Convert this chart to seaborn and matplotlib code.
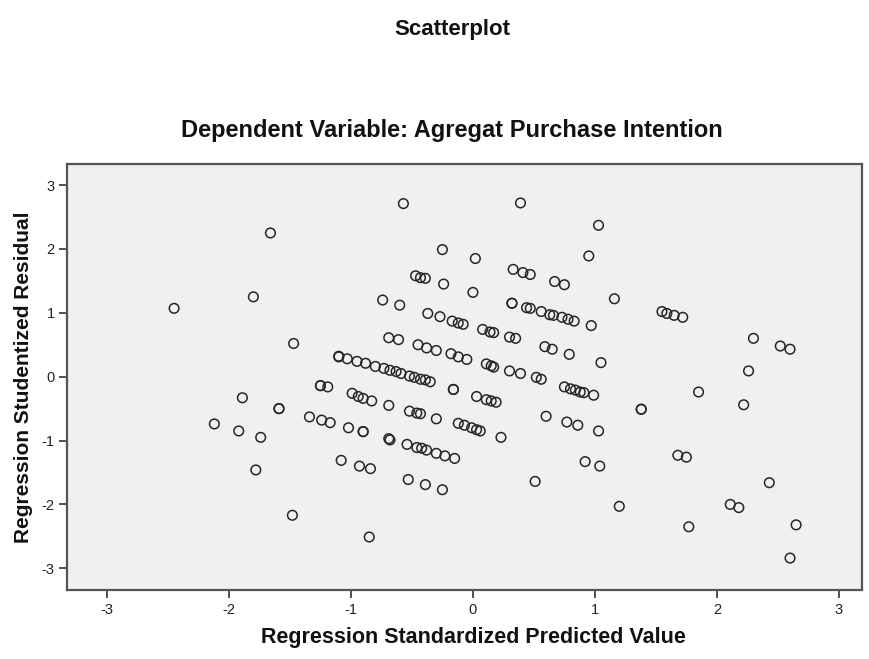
import matplotlib
matplotlib.use("Agg")
import matplotlib.pyplot as plt
import seaborn as sns
import pandas as pd

# Regression standardized predicted value (x) and studentized residual (y)
predicted = [
    -2.45, -1.66, -1.80, -1.47,
    -1.89, -1.59, -1.59, -2.12, -1.92, -1.74, -1.78, -1.48, -0.85,
    -0.57, 0.39, 1.03, -0.25, 0.02, 0.95,
    1.55, 1.59, 1.65, 1.72, 1.16, 2.30, 2.52, 2.60, 2.26, 1.85, 2.22, 1.38, 1.38,
    1.68, 1.75, 2.43, 1.20, 2.11, 2.18, 1.77, 2.65, 2.60,
    1.05, 0.97, 0.99, 1.03, 1.04, 0.92,
    -0.47, -0.43, -0.39, -0.24, 0.00, -0.74, -0.60,
    0.33, 0.41, 0.47, 0.67, 0.75,
    0.32, 0.32, 0.44, 0.47, 0.56, 0.63, 0.66, 0.73, 0.78, 0.83,
    -0.37, -0.27, -0.17, -0.12, -0.08,
    0.08, 0.14, 0.17, 0.30, 0.35, -0.69, -0.61,
    -0.45, -0.38, -0.30, -0.18, -0.12, -0.05,
    0.11, 0.15, 0.17, 0.30, 0.39, 0.52, 0.56, 0.59, 0.65, 0.79,
    -1.10, -1.10, -1.03, -0.95, -0.88, -0.80, -0.73, -0.68, -0.63, -0.59, -0.52,
    -0.48, -0.43, -0.39, -0.35,
    -1.25, -1.25, -1.19, -0.16, -0.16,
    -0.99, -0.94, -0.90, -0.83,
    0.03, 0.11, 0.15, 0.19,
    0.75, 0.80, 0.84, 0.88, 0.91,
    -0.69, -0.52, -0.46, -0.43, -0.30,
    -0.12, -0.07, -0.01, 0.03, 0.06, 0.23,
    0.60, 0.77, 0.86,
    -1.34, -1.24, -1.17, -1.02, -0.90, -0.90,
    -0.69, -0.68,
    -0.54, -0.46, -0.42, -0.38, -0.30, -0.23, -0.15,
    -1.08, -0.93, -0.84,
    -0.53, -0.39, -0.25, 0.51,
]
residual = [
    1.07, 2.25, 1.25, 0.52,
    -0.33, -0.50, -0.50, -0.74, -0.85, -0.95, -1.46, -2.17, -2.51,
    2.71, 2.72, 2.37, 1.99, 1.85, 1.89,
    1.02, 0.99, 0.96, 0.93, 1.22, 0.60, 0.48, 0.43, 0.09, -0.24, -0.44, -0.51, -0.51,
    -1.23, -1.26, -1.66, -2.03, -2.00, -2.05, -2.35, -2.32, -2.84,
    0.22, 0.80, -0.29, -0.85, -1.40, -1.33,
    1.58, 1.55, 1.54, 1.45, 1.32, 1.20, 1.12,
    1.68, 1.63, 1.60, 1.49, 1.44,
    1.15, 1.15, 1.08, 1.07, 1.02, 0.97, 0.96, 0.93, 0.90, 0.87,
    0.99, 0.94, 0.87, 0.84, 0.82,
    0.74, 0.70, 0.69, 0.62, 0.60, 0.61, 0.58,
    0.50, 0.45, 0.41, 0.36, 0.31, 0.27,
    0.20, 0.17, 0.15, 0.09, 0.05, -0.01, -0.04, 0.47, 0.43, 0.35,
    0.32, 0.31, 0.28, 0.24, 0.21, 0.16, 0.13, 0.10, 0.08, 0.05, 0.01,
    -0.01, -0.04, -0.05, -0.08,
    -0.14, -0.14, -0.16, -0.20, -0.20,
    -0.26, -0.31, -0.34, -0.38,
    -0.31, -0.36, -0.38, -0.40,
    -0.16, -0.19, -0.21, -0.24, -0.25,
    -0.45, -0.54, -0.57, -0.58, -0.66,
    -0.73, -0.76, -0.80, -0.83, -0.85, -0.95,
    -0.62, -0.71, -0.76,
    -0.63, -0.68, -0.72, -0.80, -0.86, -0.86,
    -0.97, -0.99,
    -1.06, -1.11, -1.12, -1.15, -1.20, -1.24, -1.28,
    -1.31, -1.40, -1.44,
    -1.61, -1.69, -1.77, -1.64,
]
x_ticks = [-3, -2, -1, 0, 1, 2, 3]
y_ticks = [-3, -2, -1, 0, 1, 2, 3]

df = pd.DataFrame({"pred": predicted, "resid": residual})

sns.set_style("white")
plt.rcParams["font.family"] = ["Liberation Sans", "DejaVu Sans"]

fig = plt.figure(figsize=(8.69, 6.59), dpi=100)
ax = fig.add_axes([67 / 869, 1 - 590 / 659, (862 - 67) / 869, (590 - 164) / 659])
ax.set_facecolor("#f0f0f0")

sns.scatterplot(data=df, x="pred", y="resid", ax=ax, marker="o", s=48,
                facecolor="none", edgecolor="#262626", linewidth=1.1, legend=False)

ax.set_xlim(-3.328, 3.19)
ax.set_ylim(-3.34, 3.33)
ax.set_xticks(x_ticks)
ax.set_yticks(y_ticks)
ax.set_xticklabels([str(t) for t in x_ticks])
ax.set_yticklabels([str(t) for t in y_ticks])
ax.tick_params(axis="both", direction="out", length=6, width=1.2, color="#333333",
               labelsize=10.5, labelcolor="#222222", pad=3)
ax.tick_params(bottom=True, left=True)
for sp in ax.spines.values():
    sp.set_color("#555555")
    sp.set_linewidth(1.6)

ax.set_xlabel("")
ax.set_ylabel("")
fig.text(473 / 869, 1 - 637 / 659, "Regression Standardized Predicted Value",
         ha="center", va="center", fontsize=15.5, fontweight="bold", color="#111111")
fig.text(24 / 869, 1 - 377 / 659, "Regression Studentized Residual",
         ha="center", va="center", rotation=90, fontsize=15, fontweight="bold", color="#111111")
fig.text(452 / 869, 1 - 30 / 659, "Scatterplot",
         ha="center", va="center", fontsize=16, fontweight="bold", color="#111111")
fig.text(452 / 869, 1 - 130 / 659, "Dependent Variable: Agregat Purchase Intention",
         ha="center", va="center", fontsize=17, fontweight="bold", color="#111111")

fig.savefig("out.png", dpi=100, facecolor="white")
